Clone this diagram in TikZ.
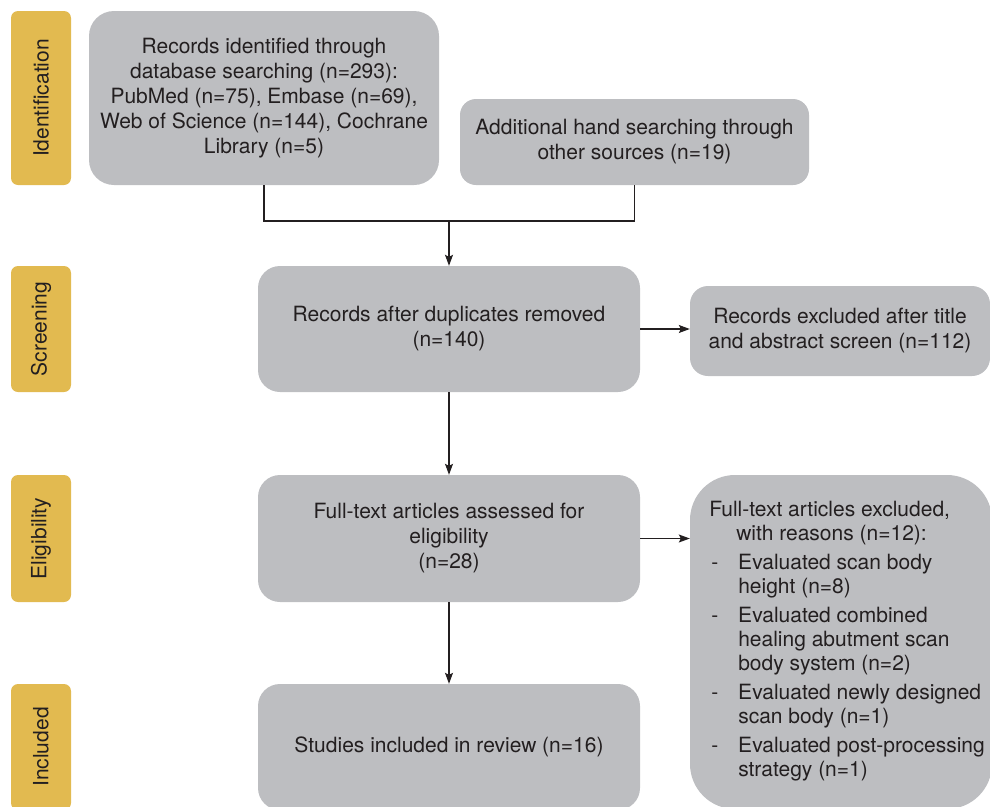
\documentclass[tikz,border=0pt]{standalone}
\usepackage{fontspec}
\setmainfont{TeX Gyre Heros}
\usetikzlibrary{arrows.meta}
\definecolor{boxgray}{RGB}{189,190,193}
\definecolor{phase}{RGB}{226,186,80}
\definecolor{ink}{RGB}{35,31,32}
\begin{document}
\begin{tikzpicture}[x=1pt,y=-1pt,
  every node/.style={font=\fontsize{21}{25}\selectfont, text=ink, inner sep=0pt},
  gbox/.style={fill=boxgray, rounded corners=#1, align=center},
  gbox/.default=20pt,
  phasebox/.style={fill=phase, rounded corners=7pt, rotate=90, minimum height=60pt},
  link/.style={draw=ink, line width=1.1pt},
  arr/.style={link, -{Stealth[length=11pt,width=8pt,inset=2pt]}}
]
\useasboundingbox (0,0) rectangle (990,806);
\begin{scope}
\clip (0,0) rectangle (990,806);
\node[phasebox, minimum width=174pt] (pI) at (41,98) {Identification};
\node[phasebox, minimum width=126pt] (pS) at (41,329) {Screening};
\node[phasebox, minimum width=127pt] (pE) at (41,538.5) {Eligibility};
\node[phasebox, minimum width=126pt] (pN) at (41,747) {Included};

\node[gbox=25pt, minimum width=350pt, minimum height=174pt] (A) at (264,98)
  {Records identified through\\database searching (n=293):\\PubMed (n=75), Embase (n=69),\\Web of Science (n=144), Cochrane\\Library (n=5)};
\node[gbox=16pt, minimum width=349pt, minimum height=86pt] (B) at (634.5,142)
  {Additional hand searching through\\other sources (n=19)};
\node[gbox=22pt, minimum width=382pt, minimum height=126pt] (C) at (449,329)
  {Records after duplicates removed\\(n=140)};
\node[gbox=18pt, minimum width=300pt, minimum height=90pt] (D) at (840,331)
  {Records excluded after title\\and abstract screen (n=112)};
\node[gbox=22pt, minimum width=382pt, minimum height=127pt] (E) at (449,538.5)
  {Full-text articles assessed for\\eligibility\\(n=28)};
\node[gbox=45pt, minimum width=302pt, minimum height=334pt] (F) at (841,642)
  {\fontsize{21}{24}\selectfont\hspace*{12pt}\begin{tabular}{@{}l@{}}
   Full-text articles excluded,\\
   \hspace*{27pt}with reasons (n=12):\\[5pt]
   \makebox[29pt][l]{\hspace*{2pt}-}Evaluated scan body\\
   \hspace*{29pt}height (n=8)\\[5pt]
   \makebox[29pt][l]{\hspace*{2pt}-}Evaluated combined\\
   \hspace*{29pt}healing abutment scan\\
   \hspace*{29pt}body system (n=2)\\[5pt]
   \makebox[29pt][l]{\hspace*{2pt}-}Evaluated newly designed\\
   \hspace*{29pt}scan body (n=1)\\[5pt]
   \makebox[29pt][l]{\hspace*{2pt}-}Evaluated post-processing\\
   \hspace*{29pt}strategy (n=1)
   \end{tabular}};
\node[gbox=22pt, minimum width=382pt, minimum height=126pt] (G) at (449,747)
  {Studies included in review (n=16)};
\end{scope}

\coordinate (j) at (449,221);
\draw[link] (A.south) |- (j) -| (B.south);
\draw[arr] (j) -- (C.north);
\draw[arr] (C.east) -- (C.east -| D.west);
\draw[arr] (C.south) -- (E.north);
\draw[arr] (E.east) -- (E.east -| F.west);
\draw[arr] (E.south) -- (G.north);
\end{tikzpicture}
\end{document}
